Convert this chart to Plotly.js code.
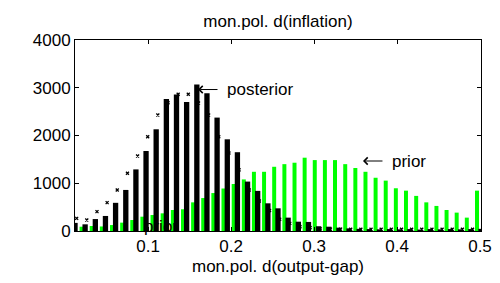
<!DOCTYPE html>
<html>
<head>
<meta charset="utf-8">
<script src="https://cdn.plot.ly/plotly-3.0.1.min.js"></script>
<style>html,body{margin:0;padding:0;background:#fff}#chart{width:500px;height:283px}</style>
</head>
<body>
<div id="chart"></div>
<script>
// Posterior histogram (black bars): bin centres and counts
const posteriorX = [0.0120,0.0242,0.0365,0.0487,0.0609,0.0732,0.0854,0.0976,0.1098,0.1221,
  0.1343,0.1465,0.1588,0.1710,0.1832,0.1955,0.2077,0.2199,0.2321,0.2444,
  0.2566,0.2688,0.2811,0.2933,0.3055,0.3178,0.3300,0.3422,0.3544,0.3667,
  0.3789,0.3911,0.4034,0.4156,0.4278,0.4401,0.4523,0.4645,0.4767,0.4890,0.5012];
const posteriorY = [170,140,250,315,590,860,1290,1675,2130,2765,
  2860,2700,3070,2885,2375,1920,1650,1035,840,580,
  475,280,195,190,100,90,70,55,45,40,
  35,40,35,40,30,40,35,40,35,40,45];
// Small "x" marks drawn over the posterior bars
const markX = [0.0140,0.0262,0.0385,0.0507,0.0629,0.0752,0.0874,0.0996,0.1118,0.1241,
  0.1363,0.1485,0.1608,0.1730,0.1852,0.1975,0.2097,0.2219,0.2341,0.2464,
  0.2586,0.2708,0.2831,0.2953,0.3075,0.3198,0.3320,0.3442,0.3564,0.3687,
  0.3809,0.3931,0.4054,0.4176,0.4298,0.4421,0.4543,0.4665,0.4787,0.4910];
const markY = [265,230,405,595,860,1210,1570,1975,2430,2685,
  2865,2865,2680,2430,1975,1635,1280,860,630,430,
  245,160,90,70,45,40,40,35,35,35,
  35,35,35,35,35,35,35,35,35,35];
// Prior histogram (green bars): bin centres and counts
const priorX = [0.0199,0.0321,0.0443,0.0566,0.0688,0.0810,0.0932,0.1054,0.1176,0.1299,
  0.1421,0.1543,0.1665,0.1787,0.1909,0.2032,0.2154,0.2276,0.2398,0.2520,
  0.2643,0.2765,0.2887,0.3009,0.3131,0.3253,0.3376,0.3498,0.3620,0.3742,
  0.3864,0.3986,0.4108,0.4231,0.4353,0.4475,0.4597,0.4719,0.4841,0.4964];
const priorY = [90,105,95,125,175,230,300,335,370,440,
  455,600,690,795,890,985,1080,1240,1240,1345,
  1400,1430,1535,1485,1485,1485,1400,1320,1240,1115,
  1055,895,845,735,600,525,440,385,280,845];
const xTicks = [0.1,0.2,0.3,0.4,0.5];
const xTickText = ['0.1','0.2','0.3','0.4','0.5'];
const yTicks = [0,1000,2000,3000,4000];
const yTickText = ['0','1000','2000','3000','4000'];

const FONT = 'Liberation Sans, Arial, sans-serif';
const xRange = [0.012, 0.5012];
const yRange = [0, 4000];

const traces = [
  {type:'bar', x:priorX, y:priorY, width:0.0048, marker:{color:'#00ff00', line:{width:0}},
   showlegend:false},
  {type:'bar', x:posteriorX, y:posteriorY, width:0.0064, marker:{color:'#000000', line:{width:0}},
   showlegend:false},
  {type:'scatter', mode:'markers', x:markX, y:markY,
   marker:{symbol:'x-thin', size:3, color:'#000', line:{width:1.3,color:'#000'}},
   showlegend:false}
];

const axisCommon = {
  showline:true, linecolor:'#000', linewidth:1, mirror:'ticks',
  ticks:'inside', ticklen:4, tickwidth:1, tickcolor:'#000',
  showgrid:false, zeroline:false, fixedrange:true,
  tickfont:{family:FONT, size:17, color:'#000'}
};

const layout = {
  width:500, height:283,
  margin:{l:75, r:19, t:40, b:52, pad:0},
  paper_bgcolor:'#fff', plot_bgcolor:'#fff',
  barmode:'overlay',
  showlegend:false,
  title:{text:'mon.pol. d(inflation)', font:{family:FONT, size:17, color:'#000'},
         x:0.5, xref:'paper', y:1-21/283, yref:'container', yanchor:'middle'},
  xaxis:Object.assign({}, axisCommon, {range:xRange, tickvals:xTicks, ticktext:xTickText,
         title:{text:'mon.pol. d(output-gap)', font:{family:FONT, size:17, color:'#000'}, standoff:4}}),
  yaxis:Object.assign({}, axisCommon, {range:yRange, tickvals:yTicks, ticktext:yTickText}),
  annotations:[
    {x:0.1157, y:85, xref:'x', yref:'y', text:'prior', showarrow:false,
     font:{family:FONT, size:17, color:'#000'}},
    {x:0.1602, y:2963, xref:'x', yref:'y', text:'posterior', showarrow:true,
     ax:62, ay:0, arrowhead:4, arrowsize:1.4, arrowwidth:1, arrowcolor:'#000',
     startstandoff:8, font:{family:FONT, size:17, color:'#000'}},
    {x:0.359, y:1466, xref:'x', yref:'y', text:'prior', showarrow:true,
     ax:46, ay:0, arrowhead:4, arrowsize:1.4, arrowwidth:1, arrowcolor:'#000',
     startstandoff:8, font:{family:FONT, size:17, color:'#000'}}
  ]
};

Plotly.newPlot('chart', traces, layout, {staticPlot:true, displayModeBar:false});
</script>
</body>
</html>
